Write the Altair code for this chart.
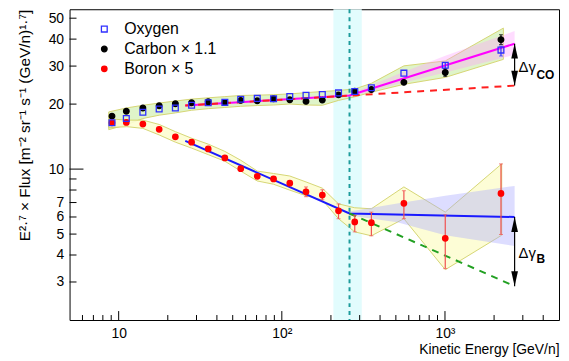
import altair as alt
import pandas as pd

FONT = "Liberation Sans"

# ---------------- data ----------------
energy = [9.10, 11.14, 14.07, 17.71, 22.26, 27.99, 35.39, 44.74, 56.00, 70.70,
          88.99, 111.9, 140.7, 177.1, 222.6, 279.9, 353.9, 560.0, 1004, 2204]
oxygen = [16.39, 17.15, 18.34, 18.99, 19.19, 19.75, 20.29, 20.38, 21.05, 21.26,
          21.17, 21.70, 22.00, 22.17, 22.54, 22.88, 23.81, 27.82, 30.26, 35.57]
carbon = [17.59, 18.54, 19.19, 19.66, 20.08, 20.29, 20.50, 20.38, 20.81, 20.72,
          21.17, 20.94, 20.59, 20.87, 22.07, 22.95, 23.36, 25.22, 28.02, 39.78]
boron = [16.39, 16.44, 16.17, 15.28, 14.11, 13.33, 12.40, 11.26, 10.05, 9.26,
         9.00, 8.60, 7.85, 7.58, 6.41, 5.69, 5.65, 6.94, 4.78, 7.71]

boron_err_energy = [140.7, 177.1, 222.6, 279.9, 353.9, 560.0, 1004, 2204]
boron_err_hi = [8.27, 8.02, 6.90, 6.10, 6.32, 7.94, 6.14, 10.57]
boron_err_lo = [7.45, 7.22, 5.89, 5.12, 4.91, 5.89, 3.46, 4.98]

co_err_energy = [1004, 2204]
oxygen_err_hi = [31.13, 37.11]
oxygen_err_lo = [29.01, 33.40]
carbon_err_hi = [29.23, 41.92]
carbon_err_lo = [26.87, 37.73]

# systematic bands
co_band_energy = [8.69, 11.14, 14.07, 17.71, 22.26, 27.99, 35.39, 44.74, 56.00, 70.70,
                  88.99, 111.9, 140.7, 177.1, 222.6, 279.9, 353.9, 560.0, 1004, 2280]
co_band_hi = [18.40, 19.19, 19.75, 20.23, 20.66, 21.10, 21.39, 21.66, 21.93, 22.00,
              22.11, 22.30, 22.59, 22.88, 23.12, 23.51, 24.96, 30.07, 31.69, 44.98]
co_band_lo = [15.23, 16.05, 17.15, 17.77, 18.21, 18.73, 19.05, 19.29, 19.54, 19.70,
              19.81, 20.02, 19.81, 19.75, 20.81, 21.61, 22.71, 24.70, 26.59, 32.23]

b_band_energy = [8.69, 11.23, 14.07, 17.71, 22.26, 27.99, 35.39, 44.74, 56.00, 70.70,
                 88.99, 111.9, 140.7, 177.1, 222.6, 279.9, 353.9, 560.0, 1004, 2226]
b_band_hi = [17.10, 16.86, 16.86, 16.10, 14.91, 13.90, 13.05, 12.08, 10.99, 9.79,
             9.54, 9.29, 8.72, 8.16, 6.90, 6.62, 6.55, 8.27, 6.32, 10.57]
b_band_lo = [15.55, 15.72, 15.44, 14.40, 13.33, 12.51, 11.67, 10.88, 9.79, 8.81,
             8.51, 7.99, 7.53, 7.19, 5.89, 5.12, 4.91, 5.89, 3.42, 4.94]

# fits
fit_energy = [25.6, 259.8, 2672]
co_fit = [19.70, 21.93, 38.09]
co_extrap_energy = [25.6, 2672]
co_extrap = [19.70, 24.36]
b_fit = [13.52, 6.23, 6.00]
b_extrap_energy = [259.8, 2672]
b_extrap = [6.23, 2.87]

hatch_energy = [259.8, 509.6, 1004, 2672]
co_hatch_hi = [22.23, 27.44, 33.51, 43.58]
co_hatch_lo = [21.54, 24.70, 28.02, 33.86]
b_hatch_hi = [6.36, 6.92, 7.53, 8.36]
b_hatch_lo = [6.10, 5.67, 4.94, 4.40]

break_band = [207, 309]
break_energy = [260]

arrow_energy = [2672]
co_arrow = [24.36, 38.09]
b_arrow = [2.87, 6.00]
labels_text = ["Δγ", "Δγ"]
labels_flux = [28.02, 3.87]
sub_text = ["CO", "B"]
sub_flux = [26.04, 3.67]

series_names = ["Oxygen", "Carbon × 1.1", "Boron × 5"]

x_major = [10, 100, 1000]
x_minor = [6, 7, 8, 9, 20, 30, 40, 50, 60, 70, 80, 90,
           200, 300, 400, 500, 600, 700, 800, 900, 2000, 3000, 4000]
y_major = [10]
y_minor = [3, 4, 5, 6, 7, 8, 9, 20, 30, 40, 50]
y_labels = [3, 4, 5, 6, 7, 10, 20, 30, 40, 50]

W, H = 493, 313

# ---------------- scales / axes ----------------
xs = alt.Scale(type="log", domain=[5, 5000], nice=False)
ys = alt.Scale(type="log", domain=[2, 55], nice=False)

xaxis = alt.Axis(
    title="Kinetic Energy [GeV/n]", values=x_major,
    labelExpr="datum.value == 10 ? '10' : (datum.value == 100 ? '10²' : '10³')",
    domain=False, ticks=False, grid=False, labelPadding=7,
    labelFont=FONT, labelFontSize=14, labelColor="black",
    titleFont=FONT, titleFontSize=14, titleFontWeight="normal", titleColor="black",
    titleAlign="right", titleBaseline="alphabetic", titleX=W, titleY=34,
)
yaxis = alt.Axis(
    title="E²·⁷ × Flux [m⁻² sr⁻¹ s⁻¹ (GeV/n)¹·⁷]", values=y_labels, format="d",
    domain=False, ticks=False, grid=False, labelPadding=6,
    labelFont=FONT, labelFontSize=14, labelColor="black",
    titleFont=FONT, titleFontSize=15.5, titleFontWeight="normal", titleColor="black",
    titleAngle=270, titleAlign="right", titleBaseline="alphabetic",
    titleX=-40, titleY=0,
)


def X(field):
    return alt.X(field, type="quantitative", scale=xs, axis=xaxis)


def Y(field):
    return alt.Y(field, type="quantitative", scale=ys, axis=yaxis)


# ---------------- frames ----------------
pts_rows = []
for e, c in zip(energy, carbon):
    pts_rows.append({"E": e, "F": c, "series": series_names[1]})
for e, b in zip(energy, boron):
    pts_rows.append({"E": e, "F": b, "series": series_names[2]})
for e, o in zip(energy, oxygen):
    pts_rows.append({"E": e, "F": o, "series": series_names[0]})
pts_df = pd.DataFrame(pts_rows)

co_band_df = pd.DataFrame({"E": co_band_energy, "hi": co_band_hi, "lo": co_band_lo})
b_band_df = pd.DataFrame({"E": b_band_energy, "hi": b_band_hi, "lo": b_band_lo})
co_hatch_df = pd.DataFrame({"E": hatch_energy, "hi": co_hatch_hi, "lo": co_hatch_lo})
b_hatch_df = pd.DataFrame({"E": hatch_energy, "hi": b_hatch_hi, "lo": b_hatch_lo})

berr_df = pd.DataFrame({"E": boron_err_energy, "hi": boron_err_hi, "lo": boron_err_lo})
oerr_df = pd.DataFrame({"E": co_err_energy, "hi": oxygen_err_hi, "lo": oxygen_err_lo})
cerr_df = pd.DataFrame({"E": co_err_energy, "hi": carbon_err_hi, "lo": carbon_err_lo})

co_fit_df = pd.DataFrame({"E": fit_energy, "F": co_fit})
co_ex_df = pd.DataFrame({"E": co_extrap_energy, "F": co_extrap})
b_fit_df = pd.DataFrame({"E": fit_energy, "F": b_fit})
b_ex_df = pd.DataFrame({"E": b_extrap_energy, "F": b_extrap})

break_df = pd.DataFrame({"E1": [break_band[0]], "E2": [break_band[1]]})
bline_df = pd.DataFrame({"E": break_energy})

arrow_df = pd.DataFrame({
    "E": arrow_energy * 2,
    "lo": [co_arrow[0], b_arrow[0]],
    "hi": [co_arrow[1], b_arrow[1]],
})
lab_df = pd.DataFrame({"E": arrow_energy * 2, "F": labels_flux, "t": labels_text})
sub_df = pd.DataFrame({"E": arrow_energy * 2, "F": sub_flux, "t": sub_text})

xmaj_df = pd.DataFrame({"v": x_major})
xmin_df = pd.DataFrame({"v": x_minor})
ymaj_df = pd.DataFrame({"v": y_major})
ymin_df = pd.DataFrame({"v": y_minor})

# ---------------- layers ----------------
cyan = alt.Chart(break_df).mark_rect(color="#e2fcfd").encode(
    x=X("E1"), x2="E2")

band_stroke = "#d2d266"
co_band = alt.Chart(co_band_df).mark_area(
    fill="#dcf3c4", stroke=band_stroke, strokeWidth=1, opacity=0.9).encode(
    x=X("E"), y=Y("hi"), y2="lo")
b_band = alt.Chart(b_band_df).mark_area(
    fill="#fdfdd2", stroke=band_stroke, strokeWidth=1, opacity=0.9).encode(
    x=X("E"), y=Y("hi"), y2="lo")

co_hatch = alt.Chart(co_hatch_df).mark_area(
    fill="#ff9cff", opacity=0.35).encode(x=X("E"), y=Y("hi"), y2="lo")
b_hatch = alt.Chart(b_hatch_df).mark_area(
    fill="#a9a9ff", opacity=0.4).encode(x=X("E"), y=Y("hi"), y2="lo")

bline = alt.Chart(bline_df).mark_rule(
    color="#1e9c9c", strokeWidth=2, strokeDash=[4, 4]).encode(x=X("E"))

co_fit_l = alt.Chart(co_fit_df).mark_line(color="#ff00ff", strokeWidth=2).encode(
    x=X("E"), y=Y("F"))
co_ex_l = alt.Chart(co_ex_df).mark_line(
    color="#ff2020", strokeWidth=2, strokeDash=[7, 6]).encode(x=X("E"), y=Y("F"))
b_fit_l = alt.Chart(b_fit_df).mark_line(color="#1a1aff", strokeWidth=2).encode(
    x=X("E"), y=Y("F"))
b_ex_l = alt.Chart(b_ex_df).mark_line(
    color="#22a022", strokeWidth=2, strokeDash=[7, 6]).encode(x=X("E"), y=Y("F"))


def errbars(df, color):
    r = alt.Chart(df).mark_rule(color=color, strokeWidth=1.2).encode(
        x=X("E"), y=Y("lo"), y2="hi")
    t1 = alt.Chart(df).mark_tick(color=color, orient="horizontal", size=4,
                                 thickness=1).encode(x=X("E"), y=Y("hi"))
    t2 = alt.Chart(df).mark_tick(color=color, orient="horizontal", size=4,
                                 thickness=1).encode(x=X("E"), y=Y("lo"))
    return [r, t1, t2]


leg = alt.Legend(
    title=None, orient="none", legendX=27, legendY=12, padding=0,
    labelFont=FONT, labelFontSize=16, labelColor="black", labelOffset=12,
    rowPadding=4, symbolStrokeWidth=1.3, symbolSize=40,
)
points = alt.Chart(pts_df).mark_point(strokeWidth=1.3, opacity=1).encode(
    x=X("E"), y=Y("F"),
    shape=alt.Shape("series:N", scale=alt.Scale(domain=series_names,
                    range=["square", "circle", "circle"]), legend=leg),
    stroke=alt.Stroke("series:N", scale=alt.Scale(domain=series_names,
                      range=["#2f2fff", "black", "#ff0000"]), legend=leg),
    fill=alt.Fill("series:N", scale=alt.Scale(domain=series_names,
                  range=["transparent", "black", "#ff0000"]), legend=leg),
    size=alt.Size("series:N", scale=alt.Scale(domain=series_names,
                  range=[34, 30, 30]), legend=leg),
    order=alt.value(0),
)

xmaj = alt.Chart(xmaj_df).mark_rule(color="black", strokeWidth=1).encode(
    x=X("v"), y=alt.value(H), y2=alt.value(H - 9))
xmin = alt.Chart(xmin_df).mark_rule(color="black", strokeWidth=1).encode(
    x=X("v"), y=alt.value(H), y2=alt.value(H - 5))
ymaj = alt.Chart(ymaj_df).mark_rule(color="black", strokeWidth=1).encode(
    y=Y("v"), x=alt.value(0), x2=alt.value(14))
ymin = alt.Chart(ymin_df).mark_rule(color="black", strokeWidth=1).encode(
    y=Y("v"), x=alt.value(0), x2=alt.value(7))

shaft = alt.Chart(arrow_df).mark_rule(color="black", strokeWidth=1.2).encode(
    x=X("E"), y=Y("lo"), y2="hi")
head_up = alt.Chart(arrow_df).mark_point(
    shape="M0,0 L0.45,2 L-0.45,2 Z", filled=True, size=225, color="black",
    opacity=1).encode(x=X("E"), y=Y("hi"))
head_down = alt.Chart(arrow_df).mark_point(
    shape="M0,0 L0.45,-2 L-0.45,-2 Z", filled=True, size=225, color="black",
    opacity=1).encode(x=X("E"), y=Y("lo"))

lab = alt.Chart(lab_df).mark_text(
    align="left", baseline="alphabetic", dx=4, font=FONT, fontSize=15,
    color="black").encode(x=X("E"), y=Y("F"), text="t:N")
sub = alt.Chart(sub_df).mark_text(
    align="left", baseline="alphabetic", dx=22, font=FONT, fontSize=12,
    fontWeight="bold", color="black").encode(x=X("E"), y=Y("F"), text="t:N")

layers = [cyan, co_band, b_band, co_hatch, b_hatch, bline,
          co_fit_l, co_ex_l, b_fit_l, b_ex_l]
layers += errbars(berr_df, "#f05050")
layers += errbars(oerr_df, "#2f2fff")
layers += errbars(cerr_df, "black")
layers += [points, xmaj, xmin, ymaj, ymin, shaft, head_up, head_down, lab, sub]

chart = alt.layer(*layers).properties(
    width=W, height=H,
    autosize=alt.AutoSizeParams(type="none"),
    padding={"left": 62, "top": 0, "right": 2, "bottom": 36},
    background="white",
).configure_view(stroke="black", strokeWidth=1)

chart.save("out.html", embed_options={"renderer": "svg", "actions": False})
